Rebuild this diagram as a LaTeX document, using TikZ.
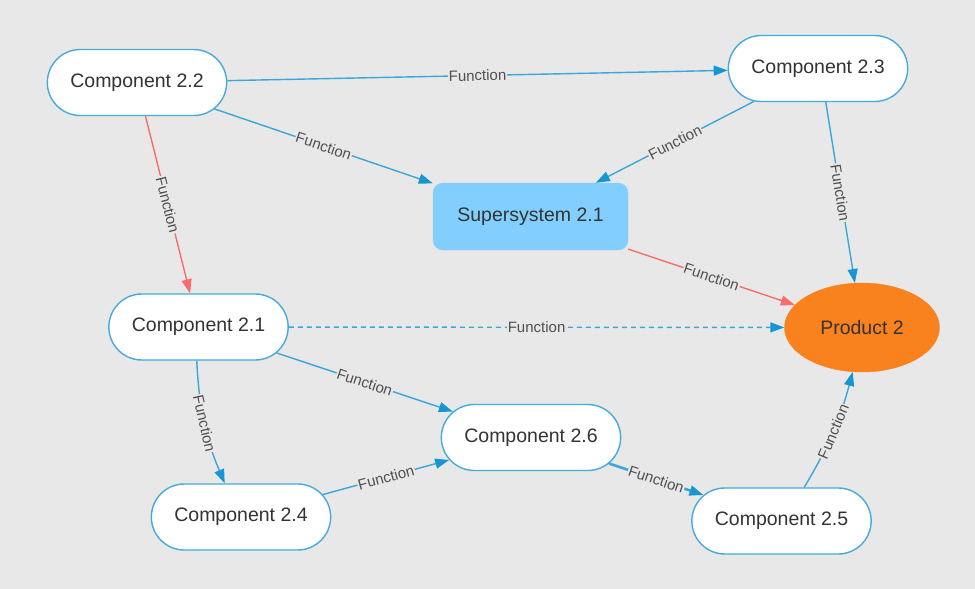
\documentclass[tikz,border=0pt]{standalone}
\usepackage{fontspec}
\setmainfont{Liberation Sans}
\usetikzlibrary{shapes.misc,shapes.geometric,arrows.meta}
\definecolor{bg}{RGB}{232,232,232}
\definecolor{edgeblue}{RGB}{58,166,218}
\definecolor{tipblue}{RGB}{22,150,211}
\definecolor{nodeborder}{RGB}{70,170,220}
\definecolor{redline}{RGB}{247,108,108}
\definecolor{skyfill}{RGB}{130,206,254}
\definecolor{orangefill}{RGB}{249,130,30}
\definecolor{txt}{RGB}{51,51,51}
\definecolor{lblgray}{RGB}{80,80,80}
\tikzset{
  comp/.style={rounded rectangle, draw=nodeborder, line width=1.4pt, fill=white,
    minimum width=186pt, minimum height=66pt, text=txt, font=\fontsize{19.5}{20}\selectfont},
  supsys/.style={rectangle, rounded corners=10pt, fill=skyfill, draw=skyfill,
    minimum width=195pt, minimum height=67pt, text=txt, font=\fontsize{19.5}{20}\selectfont},
  prod/.style={ellipse, fill=orangefill, draw=orangefill, minimum width=155pt, minimum height=89pt,
    text=txt, font=\fontsize{19.5}{20}\selectfont},
  edge/.style={draw=edgeblue, line width=1.4pt, -{Triangle[length=14pt,width=10pt,color=tipblue]}},
  rededge/.style={draw=redline, line width=1.4pt, -{Triangle[length=14pt,width=10pt,color=redline]}},
  lbl/.style={font=\fontsize{15}{15}\selectfont, text=lblgray, fill=bg, inner sep=0.8pt, sloped, midway}
}
\begin{document}
\begin{tikzpicture}[x=1pt,y=-1pt]
\fill[bg] (0,0) rectangle (975,589);
\useasboundingbox (0,0) rectangle (975,589);

\node[comp] (c22) at (137,82.5) {Component 2.2};
\node[comp] (c23) at (818,68.5) {Component 2.3};
\node[supsys] (s21) at (530.5,216.5) {Supersystem 2.1};
\node[prod] (p2) at (862,327.5) {Product 2};
\node[comp] (c21) at (198.5,327) {Component 2.1};
\node[comp] (c24) at (241,517) {Component 2.4};
\node[comp] (c26) at (531,437.5) {Component 2.6};
\node[comp] (c25) at (781.5,521) {Component 2.5};

\draw[edge] (c22) -- node[lbl] {Function} (c23);
\draw[edge] (c22) -- node[lbl] {Function} (s21);
\draw[rededge] (c22) -- node[lbl] {Function} (c21);
\draw[edge] (c23) -- node[lbl] {Function} (s21);
\draw[edge] (c23.-77) -- node[lbl] {Function} (p2);
\draw[rededge] (s21) -- node[lbl] {Function} (p2);
\draw[edge, dash pattern=on 5pt off 4pt] (c21) -- node[lbl] {Function} (p2);
\draw[edge] (c21) -- node[lbl] {Function} (c26);
\draw[edge] (c21.-93) to[bend right=10] node[lbl] {Function} (c24);
\draw[edge] (c24) -- node[lbl] {Function} (c26);
\draw[edge, line width=2.6pt] (c26) -- node[lbl] {Function} (c25);
\draw[edge] (c25.56) to[bend right=8] node[lbl] {Function} (p2);
\end{tikzpicture}
\end{document}
